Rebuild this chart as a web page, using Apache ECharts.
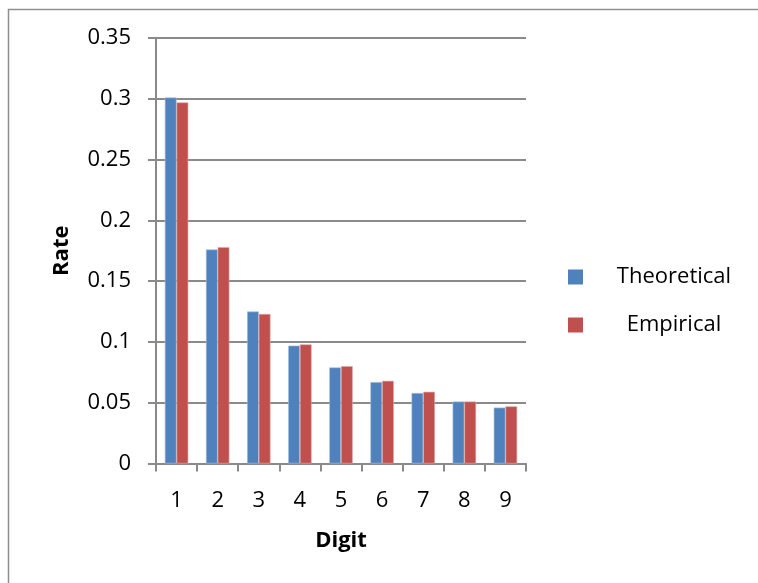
<!DOCTYPE html>
<html>
<head>
<meta charset="utf-8">
<script src="https://cdn.jsdelivr.net/npm/echarts@6/dist/echarts.min.js"></script>
<style>
  html, body { margin: 0; padding: 0; background: #ffffff; }
  #chart { width: 758px; height: 583px; }
</style>
</head>
<body>
<div id="chart"></div>
<script>
// First-digit frequencies: Benford's law vs. observed data
const digits = ['1', '2', '3', '4', '5', '6', '7', '8', '9'];
const theoretical = [0.301, 0.176, 0.125, 0.097, 0.079, 0.067, 0.058, 0.051, 0.046];
const empirical = [0.297, 0.178, 0.123, 0.098, 0.080, 0.068, 0.059, 0.051, 0.047];
const seriesNames = ['Theoretical', 'Empirical'];
const yTicks = { min: 0, max: 0.35, step: 0.05 };

const FONT = '"Open Sans", "Liberation Sans", sans-serif';
const AXIS_GRAY = '#8a8a8a';
const FS = 22;

const chart = echarts.init(document.getElementById('chart'), null, { renderer: 'canvas' });

chart.setOption({
  animation: false,
  backgroundColor: '#ffffff',
  textStyle: { fontFamily: FONT, color: '#000' },
  graphic: [{
    type: 'rect',
    silent: true,
    shape: { x: 8.5, y: 9.5, width: 800, height: 700 },
    style: { fill: 'none', stroke: '#8f8f8f', lineWidth: 1.5 }
  }],
  grid: { left: 156, right: 232, top: 38, bottom: 119.5, containLabel: false },
  legend: {
    orient: 'vertical',
    left: 568,
    top: 266,
    padding: 0,
    itemWidth: 15,
    itemHeight: 15,
    itemGap: 26,
    icon: 'rect',
    data: seriesNames,
    itemStyle: { borderWidth: 0 },
    formatter: name => '{t|' + name + '}',
    textStyle: {
      fontFamily: FONT,
      fontSize: FS,
      color: '#000',
      rich: { t: { width: 172, align: 'center', fontSize: FS, fontFamily: FONT, height: 22 } }
    }
  },
  xAxis: {
    type: 'category',
    data: digits,
    name: 'Digit',
    nameLocation: 'middle',
    nameGap: 66,
    nameTextStyle: { fontFamily: FONT, fontSize: FS, fontWeight: 'bold', color: '#000' },
    axisLine: { lineStyle: { color: AXIS_GRAY, width: 2 } },
    axisTick: { show: true, length: 8, lineStyle: { color: AXIS_GRAY, width: 2 } },
    axisLabel: { fontFamily: FONT, fontSize: FS, color: '#000', margin: 26 },
    splitLine: { show: false }
  },
  yAxis: {
    type: 'value',
    min: yTicks.min,
    max: yTicks.max,
    interval: yTicks.step,
    name: 'Rate',
    nameLocation: 'middle',
    nameGap: 83,
    nameRotate: 90,
    nameTextStyle: { fontFamily: FONT, fontSize: FS, fontWeight: 'bold', color: '#000' },
    axisLine: { show: true, lineStyle: { color: AXIS_GRAY, width: 2 } },
    axisTick: { show: true, length: 8, lineStyle: { color: AXIS_GRAY, width: 2 } },
    axisLabel: { fontFamily: FONT, fontSize: FS, color: '#000', margin: 25 },
    splitLine: { show: true, lineStyle: { color: AXIS_GRAY, width: 2 } }
  },
  series: [
    {
      name: seriesNames[0],
      type: 'bar',
      data: theoretical,
      barGap: '0%',
      barCategoryGap: '43%',
      itemStyle: { color: '#4f81bd', borderColor: '#a9c0de', borderWidth: 0.6 }
    },
    {
      name: seriesNames[1],
      type: 'bar',
      data: empirical,
      barGap: '0%',
      barCategoryGap: '43%',
      itemStyle: { color: '#c0504d', borderColor: '#e0a9a7', borderWidth: 0.6 }
    }
  ]
});
</script>
</body>
</html>
